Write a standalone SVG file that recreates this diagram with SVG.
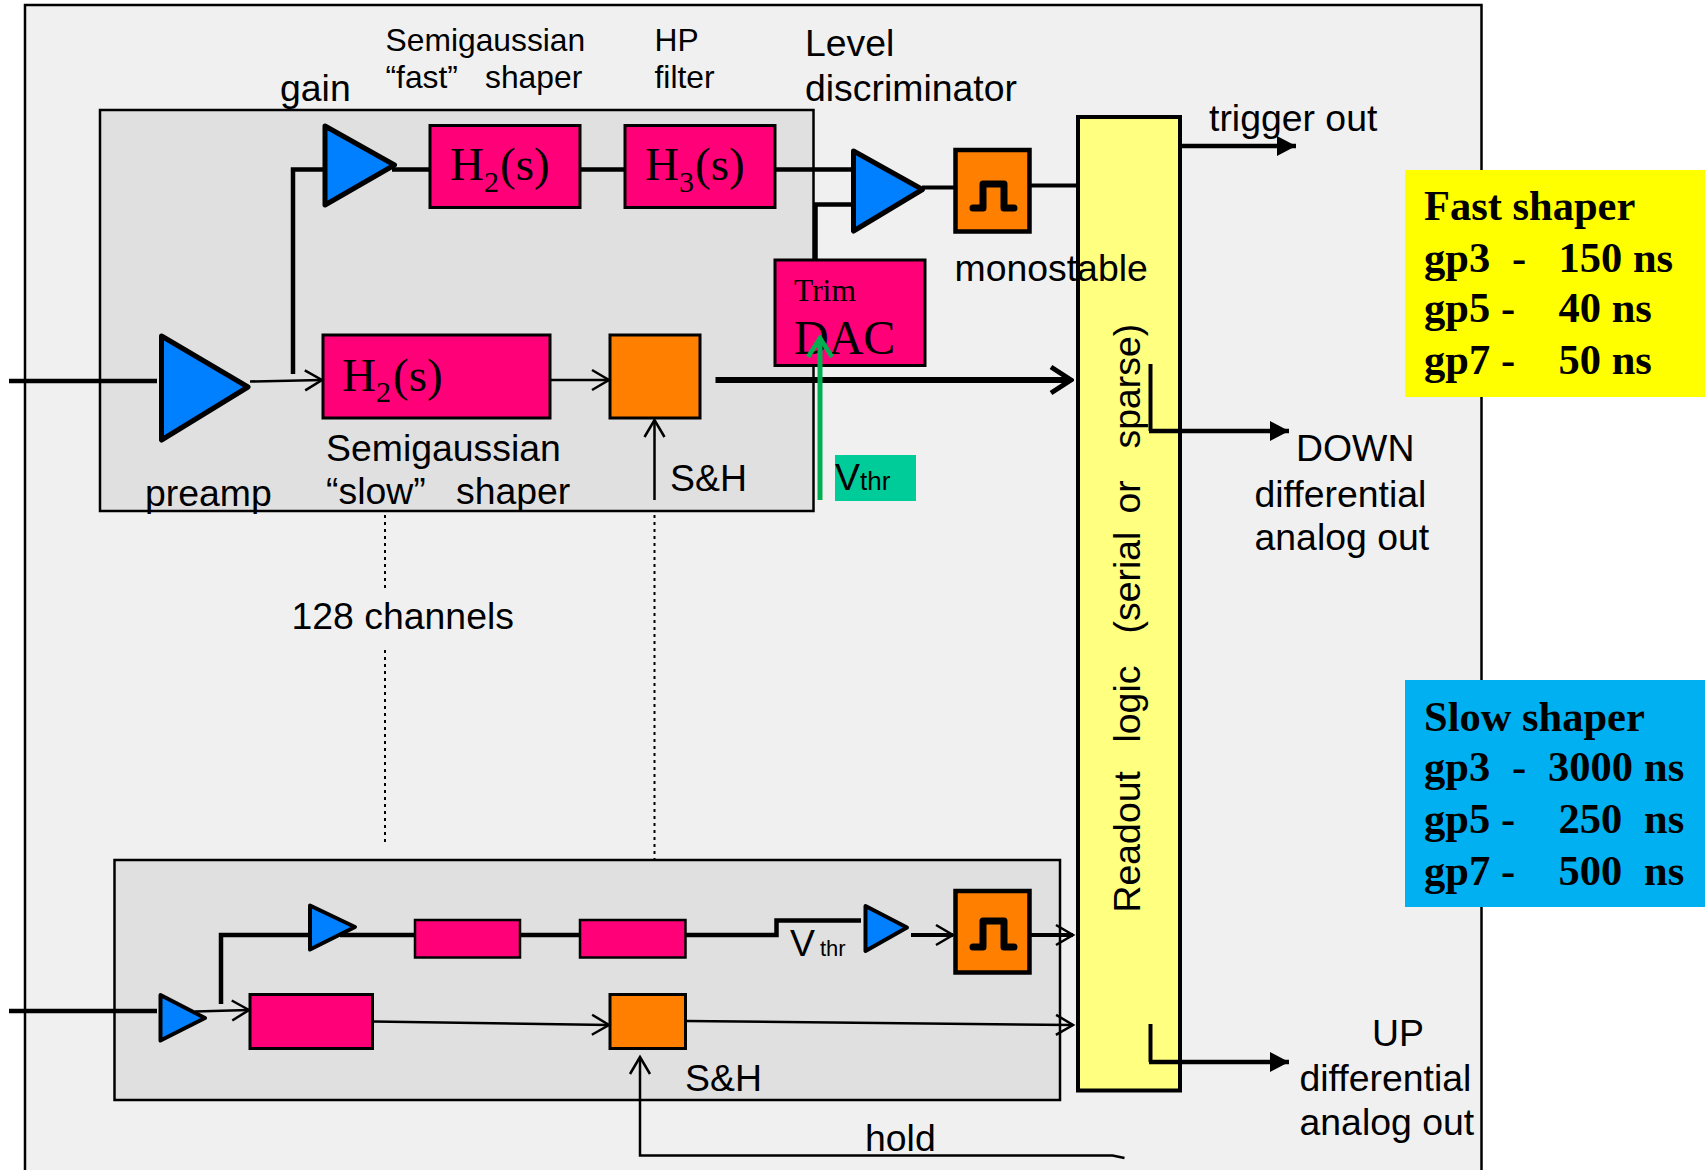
<svg xmlns="http://www.w3.org/2000/svg" width="1705" height="1170" viewBox="0 0 1705 1170">
<style>
.s{font-family:"Liberation Sans",Arial,sans-serif;font-size:37.400px;fill:#000}
.m{font-size:31.800px}
.t{font-family:"Liberation Serif","Times New Roman",serif;font-size:47px;fill:#000}
.sub{font-size:30px}
.b{font-family:"Liberation Serif","Times New Roman",serif;font-weight:bold;font-size:42.500px;fill:#000}
.tri{fill:#0080ff;stroke:#000;stroke-width:5;stroke-linejoin:round}
.tris{fill:#0080ff;stroke:#000;stroke-width:4;stroke-linejoin:round}
.pk{fill:#ff0078;stroke:#000;stroke-width:3}
.or{fill:#ff8000;stroke:#000;stroke-width:3}
.or2{fill:#ff8000;stroke:#000;stroke-width:4.500}
.pulse{fill:none;stroke:#000;stroke-width:7;stroke-linejoin:round;stroke-linecap:round}
.w{fill:none;stroke:#000;stroke-linejoin:miter}
.w2{stroke-width:2.500}
.w3{stroke-width:4}
.w4{stroke-width:4.500}
.dot{fill:none;stroke:#000;stroke-width:2;stroke-dasharray:3 4}
</style>
<defs>
<marker id="open" markerUnits="userSpaceOnUse" markerWidth="24" markerHeight="28" viewBox="0 0 24 28" refX="20" refY="14" orient="auto"><path d="M3 4L20 14L3 24" fill="none" stroke="#000" stroke-width="2.500"/></marker>
<marker id="openBig" markerUnits="userSpaceOnUse" markerWidth="28" markerHeight="34" viewBox="0 0 28 34" refX="25" refY="17" orient="auto"><path d="M5 4L25 17L5 30" fill="none" stroke="#000" stroke-width="5"/></marker>
<marker id="openGreen" markerUnits="userSpaceOnUse" markerWidth="26" markerHeight="30" viewBox="0 0 26 30" refX="23" refY="15" orient="auto"><path d="M4 3L23 15L4 27" fill="none" stroke="#00b050" stroke-width="4.500"/></marker>
<marker id="solid" markerUnits="userSpaceOnUse" markerWidth="20" markerHeight="22" viewBox="0 0 20 22" refX="19" refY="11" orient="auto"><path d="M0 1L19 11L0 21Z" fill="#000"/></marker>
</defs>
<rect width="1705" height="1170" fill="#fff"/>
<g id="frame"><rect x="25" y="5" width="1456.500" height="1170" fill="#f0f0f0" stroke="#000" stroke-width="2.500"/></g>
<g id="channel-top"><rect x="100" y="110" width="713.500" height="401" fill="#e0e0e0" stroke="#000" stroke-width="2.500"/></g>
<g id="channel-bottom"><rect x="114.500" y="860" width="945.500" height="240" fill="#e0e0e0" stroke="#000" stroke-width="2.500"/></g>
<g id="readout"><rect x="1078" y="117" width="102" height="973.500" fill="#ffff80" stroke="#000" stroke-width="4"/>
<text class="s" transform="translate(1140,912.500) rotate(-90)"><tspan x="0">Readout</tspan><tspan x="170">logic</tspan><tspan x="279">(serial</tspan><tspan x="399">or</tspan><tspan x="464">sparse)</tspan></text></g>
<g id="preamp"><polygon class="tri" points="161.500,336 248,387 161.500,440"/></g>
<g id="gain"><polygon class="tri" points="325,126 394.500,165 325,205"/></g>
<g id="fast-h2"><rect class="pk" x="430" y="125.500" width="150" height="82"/><text class="t" x="450" y="180">H</text><text class="t sub" x="484" y="192">2</text><text class="t" x="500" y="180">(s)</text></g>
<g id="fast-h3"><rect class="pk" x="625" y="125.500" width="150" height="82"/><text class="t" x="645" y="180">H</text><text class="t sub" x="679" y="192">3</text><text class="t" x="695" y="180">(s)</text></g>
<g id="slow-h2"><rect class="pk" x="323" y="335" width="227" height="83"/><text class="t" x="342" y="391">H</text><text class="t sub" x="376" y="402">2</text><text class="t" x="393" y="391">(s)</text></g>
<g id="sh-top"><rect class="or" x="610" y="335" width="90" height="83"/></g>
<g id="trim-dac"><rect class="pk" x="775" y="260" width="150" height="105.500"/><text class="t" x="794" y="301" style="font-size:31.500px">Trim</text><text class="t" x="794" y="353.500" style="font-size:48px">DAC</text></g>
<g id="discriminator"><polygon class="tri" points="853.500,151 922.500,189.500 853.500,231"/></g>
<g id="monostable"><rect class="or2" x="955.500" y="150" width="74" height="81.500"/><path class="pulse" d="M973 208H983V184H1004V208H1014"/></g>
<g id="vthr-box"><rect x="835" y="455" width="81" height="46" fill="#00cc99"/><text class="s" x="835" y="490">V</text><text class="s" x="860" y="490" style="font-size:26px">thr</text></g>
<g id="fast-box"><rect x="1405" y="170" width="300" height="227" fill="#ffff00"/>
<text class="b" x="1424" y="220">Fast shaper</text>
<text class="b" y="271.500"><tspan x="1424">gp3</tspan><tspan x="1512">-</tspan><tspan x="1558.500">150 ns</tspan></text>
<text class="b" y="322"><tspan x="1424">gp5</tspan><tspan x="1501">-</tspan><tspan x="1558.500">40 ns</tspan></text>
<text class="b" y="373.500"><tspan x="1424">gp7</tspan><tspan x="1501">-</tspan><tspan x="1558.500">50 ns</tspan></text></g>
<g id="slow-box"><rect x="1405" y="680" width="300" height="227" fill="#00b0f0"/>
<text class="b" x="1424" y="731">Slow shaper</text>
<text class="b" y="781"><tspan x="1424">gp3</tspan><tspan x="1512">-</tspan><tspan x="1548">3000</tspan><tspan x="1644">ns</tspan></text>
<text class="b" y="832.500"><tspan x="1424">gp5</tspan><tspan x="1501">-</tspan><tspan x="1558.500">250</tspan><tspan x="1644">ns</tspan></text>
<text class="b" y="884.500"><tspan x="1424">gp7</tspan><tspan x="1501">-</tspan><tspan x="1558.500">500</tspan><tspan x="1644">ns</tspan></text></g>
<g id="preamp2"><polygon class="tris" points="160.500,995 205,1018 160.500,1040.500"/></g>
<g id="gain2"><polygon class="tris" points="310,905.500 355,927 310,949.500"/></g>
<g id="fast-h2-2"><rect class="pk" x="415" y="920" width="105" height="37.500" style="stroke-width:2.500"/></g>
<g id="fast-h3-2"><rect class="pk" x="580" y="920" width="105.500" height="37.500" style="stroke-width:2.500"/></g>
<g id="slow-h2-2"><rect class="pk" x="250" y="994.500" width="122.500" height="54" style="stroke-width:3"/></g>
<g id="sh-bottom"><rect class="or" x="610" y="994.500" width="75.500" height="54" style="stroke-width:3"/></g>
<g id="discriminator2"><polygon class="tris" points="865.500,906 907,927.500 865.500,951"/></g>
<g id="monostable2"><rect class="or2" x="955.500" y="891" width="74" height="81.500"/><path class="pulse" d="M973 947H983V921H1004V947H1014"/></g>
<g id="connectors">
<path class="w w4" d="M9 381H157"/>
<path class="w w2" d="M250 381.500L322 380" marker-end="url(#open)"/>
<path class="w w4" d="M293 374V169.500H325"/>
<path class="w w4" d="M392 169.500H430M580 169.500H625M775 169.500H851"/>
<path class="w w4" d="M815.500 260V204.500H856"/>
<path class="w w3" d="M922 187.500H955M1030 185.500H1078"/>
<path class="w w2" d="M550 380H609" marker-end="url(#open)"/>
<path class="w" stroke-width="6" d="M715.500 380H1071" marker-end="url(#openBig)"/>
<path class="w w2" d="M654.500 500V420" marker-end="url(#open)"/>
<path fill="none" stroke="#00b050" stroke-width="5" d="M820 500V338" marker-end="url(#openGreen)"/>
<path class="w w4" d="M1180 146H1296" marker-end="url(#solid)"/>
<path class="w w3" d="M1150.500 364V431"/>
<path class="w w4" d="M1149 431H1289" marker-end="url(#solid)"/>
<path class="dot" d="M385 515V588M385 650V845M654.500 515V860"/>
<path class="w w4" d="M9 1011H157"/>
<path class="w w2" d="M195 1011.500L249 1010" marker-end="url(#open)"/>
<path class="w w4" d="M221 1004V935H310"/>
<path class="w w4" d="M340 935H415M520 935H580M685.500 935H776.500V920.500H861"/>
<path class="w w3" d="M911 935H953" marker-end="url(#open)"/>
<path class="w w3" d="M1030 935H1073" marker-end="url(#open)"/>
<path class="w w2" d="M373 1021.500L609 1025" marker-end="url(#open)"/>
<path class="w w2" d="M686 1021L1073 1025" marker-end="url(#open)"/>
<path class="w w2" d="M1124.500 1158L1112.500 1155.500H640V1057" marker-end="url(#open)"/>
<path class="w w3" d="M1150.500 1024V1062"/>
<path class="w w4" d="M1149 1062H1289" marker-end="url(#solid)"/>
</g>
<g id="labels">
<text class="s m" x="385.500" y="50.500">Semigaussian</text>
<text class="s m" y="88"><tspan x="385.500">“fast”</tspan><tspan x="485">shaper</tspan></text>
<text class="s m" x="654.500" y="50.500">HP</text>
<text class="s m" x="654.500" y="88">filter</text>
<text class="s" x="280" y="100.500">gain</text>
<text class="s" x="805" y="56">Level</text>
<text class="s" x="805" y="101">discriminator</text>
<text class="s" x="954.500" y="280.500">monostable</text>
<text class="s" x="1209" y="131">trigger out</text>
<text class="s" x="1296" y="461">DOWN</text>
<text class="s" x="1254.500" y="506.500">differential</text>
<text class="s" x="1254.500" y="550">analog out</text>
<text class="s" x="1372" y="1046">UP</text>
<text class="s" x="1299.500" y="1091">differential</text>
<text class="s" x="1299.500" y="1135">analog out</text>
<text class="s" x="865" y="1151">hold</text>
<text class="s" x="326" y="460.500">Semigaussian</text>
<text class="s" y="504"><tspan x="326">“slow”</tspan><tspan x="456">shaper</tspan></text>
<text class="s" x="145" y="505.500">preamp</text>
<text class="s" x="670" y="491">S&amp;H</text>
<text class="s" x="291.500" y="629">128 channels</text>
<text class="s" x="685" y="1091">S&amp;H</text>
<text class="s" x="790" y="955.500">V</text>
<text class="s" x="820" y="955.500" style="font-size:22px">thr</text>
</g>
</svg>
